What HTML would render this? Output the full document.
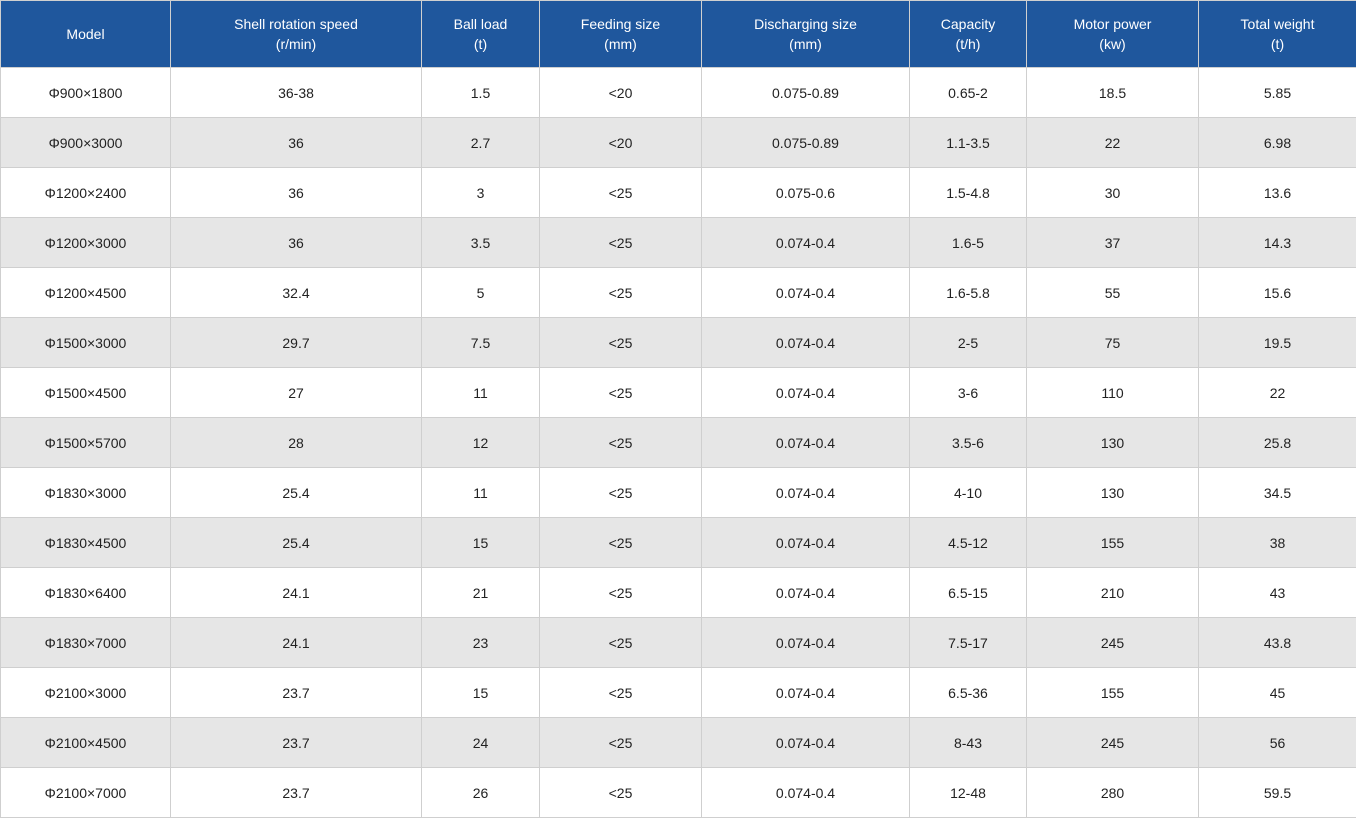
<!DOCTYPE html>
<html><head><meta charset="utf-8"><style>
html,body{margin:0;padding:0;background:#fff;width:1356px;height:818px;overflow:hidden}
table{border-collapse:collapse;table-layout:fixed;width:1356px;font-family:"Liberation Sans",sans-serif;font-size:14px;color:#222}
td,th{border:1px solid #cfcfcf;text-align:center;padding:0;height:49px}
th{background:#1f579d;color:#fff;font-weight:normal;height:66px;line-height:20px;border-color:#d0d0d0}
tr:nth-child(odd) td{background:#e6e6e6}
</style></head><body>
<table>
<colgroup><col style="width:170px"><col style="width:251px"><col style="width:118px"><col style="width:162px"><col style="width:208px"><col style="width:117px"><col style="width:172px"><col style="width:158px"></colgroup>
<tr><th>Model</th><th>Shell rotation speed<br>(r/min)</th><th>Ball load<br>(t)</th><th>Feeding size<br>(mm)</th><th>Discharging size<br>(mm)</th><th>Capacity<br>(t/h)</th><th>Motor power<br>(kw)</th><th>Total weight<br>(t)</th></tr>
<tr><td>Φ900×1800</td><td>36-38</td><td>1.5</td><td>&lt;20</td><td>0.075-0.89</td><td>0.65-2</td><td>18.5</td><td>5.85</td></tr>
<tr><td>Φ900×3000</td><td>36</td><td>2.7</td><td>&lt;20</td><td>0.075-0.89</td><td>1.1-3.5</td><td>22</td><td>6.98</td></tr>
<tr><td>Φ1200×2400</td><td>36</td><td>3</td><td>&lt;25</td><td>0.075-0.6</td><td>1.5-4.8</td><td>30</td><td>13.6</td></tr>
<tr><td>Φ1200×3000</td><td>36</td><td>3.5</td><td>&lt;25</td><td>0.074-0.4</td><td>1.6-5</td><td>37</td><td>14.3</td></tr>
<tr><td>Φ1200×4500</td><td>32.4</td><td>5</td><td>&lt;25</td><td>0.074-0.4</td><td>1.6-5.8</td><td>55</td><td>15.6</td></tr>
<tr><td>Φ1500×3000</td><td>29.7</td><td>7.5</td><td>&lt;25</td><td>0.074-0.4</td><td>2-5</td><td>75</td><td>19.5</td></tr>
<tr><td>Φ1500×4500</td><td>27</td><td>11</td><td>&lt;25</td><td>0.074-0.4</td><td>3-6</td><td>110</td><td>22</td></tr>
<tr><td>Φ1500×5700</td><td>28</td><td>12</td><td>&lt;25</td><td>0.074-0.4</td><td>3.5-6</td><td>130</td><td>25.8</td></tr>
<tr><td>Φ1830×3000</td><td>25.4</td><td>11</td><td>&lt;25</td><td>0.074-0.4</td><td>4-10</td><td>130</td><td>34.5</td></tr>
<tr><td>Φ1830×4500</td><td>25.4</td><td>15</td><td>&lt;25</td><td>0.074-0.4</td><td>4.5-12</td><td>155</td><td>38</td></tr>
<tr><td>Φ1830×6400</td><td>24.1</td><td>21</td><td>&lt;25</td><td>0.074-0.4</td><td>6.5-15</td><td>210</td><td>43</td></tr>
<tr><td>Φ1830×7000</td><td>24.1</td><td>23</td><td>&lt;25</td><td>0.074-0.4</td><td>7.5-17</td><td>245</td><td>43.8</td></tr>
<tr><td>Φ2100×3000</td><td>23.7</td><td>15</td><td>&lt;25</td><td>0.074-0.4</td><td>6.5-36</td><td>155</td><td>45</td></tr>
<tr><td>Φ2100×4500</td><td>23.7</td><td>24</td><td>&lt;25</td><td>0.074-0.4</td><td>8-43</td><td>245</td><td>56</td></tr>
<tr><td>Φ2100×7000</td><td>23.7</td><td>26</td><td>&lt;25</td><td>0.074-0.4</td><td>12-48</td><td>280</td><td>59.5</td></tr>
</table>
</body></html>
